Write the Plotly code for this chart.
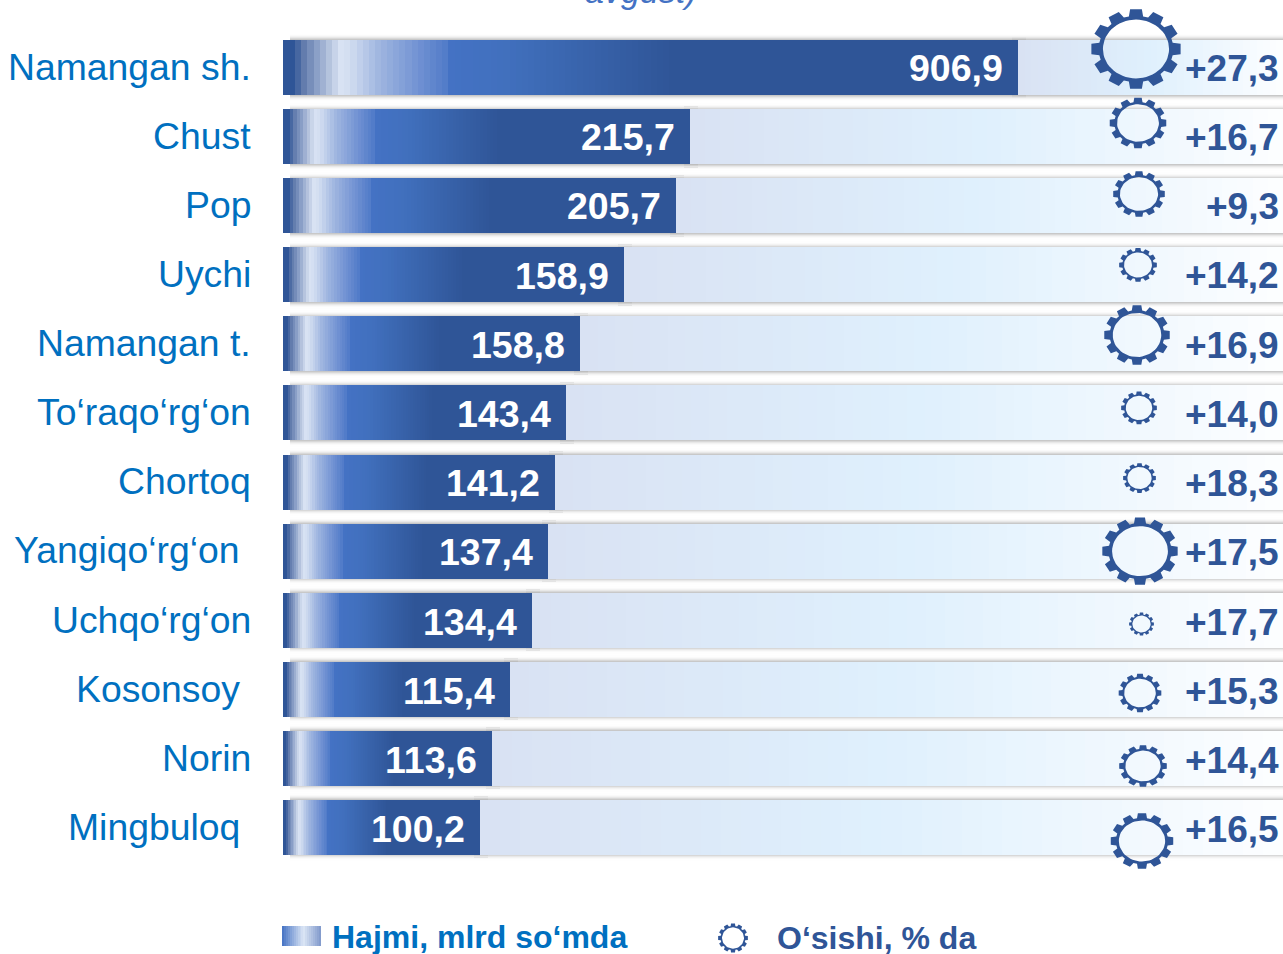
import numpy as np
import plotly.graph_objects as go

# ---------- data ----------
districts = ["Namangan sh.", "Chust", "Pop", "Uychi", "Namangan t.", "To‘raqo‘rg‘on",
             "Chortoq", "Yangiqo‘rg‘on", "Uchqo‘rg‘on", "Kosonsoy", "Norin", "Mingbuloq"]
volume = ["906,9", "215,7", "205,7", "158,9", "158,8", "143,4",
          "141,2", "137,4", "134,4", "115,4", "113,6", "100,2"]
growth = ["+27,3", "+16,7", "+9,3", "+14,2", "+16,9", "+14,0",
          "+18,3", "+17,5", "+17,7", "+15,3", "+14,4", "+16,5"]
# lengths of the bars as drawn (the infographic is not to scale)
drawn_length = [735, 407, 393, 341, 297, 283, 272, 265, 249, 227, 209, 197]
# gear glyph extents as drawn
gear_width = [90, 57, 52, 38, 66, 36, 33, 76, 25, 43, 48, 63]
gear_height = [80, 51, 46, 34, 60, 33, 30, 68, 23, 39, 42, 56]
gear_x = [853, 855, 856, 855, 854, 856, 856.5, 857, 858.5, 857, 860, 859]
gear_y_offset = [-18.5, -13.6, -11.7, -9.8, -8.9, -5, -4, 0, 3.8, 3.7, 7.6, 13.5]
label_right = [-30, -30, -30, -30, -30, -30, -30, -41, -30, -41, -30, -41]

PITCH = 69.09
TOP = 67.5
H = 954
BLUE_TXT = "#0070C0"
DARK = "#2F5597"


def row_of(px):
    return (px - TOP) / PITCH


def mix(stops, t):
    pos = [s[0] for s in stops]
    chans = [[int(s[1][k:k + 2], 16) for s in stops] for k in (1, 3, 5)]
    return "rgb(%d,%d,%d)" % tuple(round(float(np.interp(t, pos, c))) for c in chans)


BAR_STOPS = [(0, "#2F5597"), (.014, "#2F5597"), (.027, "#5F79AB"), (.046, "#8A9FC7"),
             (.064, "#B8C6DF"), (.078, "#D8E2F3"), (.09, "#D3DEF1"), (.13, "#A0B6E0"),
             (.16, "#86A2D9"), (.19, "#6C8ED1"), (.2249, "#4F7AC8"), (.225, "#4472C4"), (.30, "#4170BE"),
             (.53, "#2F5597"), (1, "#2F5597")]
TRACK_STOPS = [(0, "#D9E2F3"), (.5, "#DFF0FD"), (1, "#FDFEFF")]
SWATCH_STOPS = [(0, "#4472C4"), (.55, "#DCE6F5"), (1, "#7F97CB")]


def bands(start, length, stops, n):
    edges = np.round(np.linspace(start, start + length, n + 1))
    base, width, color = [], [], []
    for a, b in zip(edges[:-1], edges[1:]):
        if b > a:
            base.append(float(a))
            width.append(float(b - a))
            color.append(mix(stops, ((a + b) / 2 - start) / length))
    return base, width, color


fig = go.Figure()

# soft shadows above and below every track, a little darker round each bar end
sh_base, sh_w, sh_y, sh_h, sh_c = [], [], [], [], []
for i in range(12):
    top = TOP + i * PITCH - 27.5
    bot = top + 55
    for d, g in zip(range(6), (200, 216, 232, 243, 250, 254)):
        sh_base += [7, 7]
        sh_w += [993, 993]
        sh_y += [row_of(top - d - .5), row_of(bot + d + .5)]
        sh_h += [1 / PITCH, 1 / PITCH]
        sh_c += [f"rgb({g},{g},{g})"] * 2
    for d, g in zip(range(3), (190, 208, 228)):
        sh_base += [drawn_length[i] - 6, drawn_length[i] - 6]
        sh_w += [14, 14]
        sh_y += [row_of(top - d - .5), row_of(bot + d + .5)]
        sh_h += [1 / PITCH, 1 / PITCH]
        sh_c += [f"rgb({g},{g},{g})"] * 2
fig.add_bar(orientation="h", base=sh_base, x=sh_w, y=sh_y, width=sh_h, name="shadow",
            marker=dict(color=sh_c, line_width=0), showlegend=False, hoverinfo="skip")

# pale tracks, then the gradient value bars
b_t, w_t, y_t, c_t, b_v, w_v, y_v, c_v = [], [], [], [], [], [], [], []
for i, L in enumerate(drawn_length):
    b, w, c = bands(L, 1000 - L, TRACK_STOPS, 40)
    b_t += b; w_t += w; c_t += c; y_t += [i] * len(b)
    b, w, c = bands(0, L, BAR_STOPS, 120)
    b_v += b; w_v += w; c_v += c; y_v += [i] * len(b)
fig.add_bar(orientation="h", base=b_t, x=w_t, y=y_t, width=55 / PITCH, name="track",
            marker=dict(color=c_t, line_width=0), showlegend=False, hoverinfo="skip")
fig.add_bar(orientation="h", base=b_v, x=w_v, y=y_v, width=55 / PITCH, name="Hajmi, mlrd so‘mda",
            marker=dict(color=c_v, line_width=0), showlegend=False, hoverinfo="skip")

# legend swatch
b, w, c = bands(-1, 39, SWATCH_STOPS, 20)
fig.add_bar(orientation="h", base=b, x=w, y=[row_of(936)] * len(b), width=20 / PITCH,
            marker=dict(color=c, line_width=0), showlegend=False, hoverinfo="skip")


def gear_xy(cx, cy_px, gw, gh):
    """Closed outline of a 12-toothed ring, with the hole wound the other way."""
    rx, ry = gw / 2, gh / 2
    xs, ys = [], []
    for k in range(12):
        a0 = k * 30
        for ang, r in ((a0 - 11, .83), (a0 - 7.5, 1), (a0 + 7.5, 1), (a0 + 11, .83)):
            t = np.radians(ang)
            xs.append(cx + rx * r * np.cos(t))
            ys.append(row_of(cy_px + ry * r * np.sin(t)))
    xs.append(xs[0]); ys.append(ys[0])
    xs.append(None); ys.append(None)
    for ang in np.arange(360, -1, -6):
        t = np.radians(ang)
        xs.append(cx + rx * .735 * np.cos(t))
        ys.append(row_of(cy_px + ry * .735 * np.sin(t)))
    return xs, ys


def add_gear(cx, cy_px, gw, gh):
    xs, ys = gear_xy(cx, cy_px, gw, gh)
    fig.add_scatter(x=xs, y=ys, mode="lines", fill="toself", fillcolor=DARK,
                    line=dict(width=0, color=DARK), showlegend=False, hoverinfo="skip")


for i in range(12):
    add_gear(gear_x[i], TOP + i * PITCH + gear_y_offset[i], gear_width[i], gear_height[i])
add_gear(450, 938, 30, 29)

ann = []
for i in range(12):
    ann.append(dict(x=label_right[i], y=i - 0.7 / PITCH, xref="x", yref="y", text=districts[i],
                    xanchor="right", yanchor="middle", showarrow=False,
                    font=dict(family="Liberation Sans", size=37.35, color=BLUE_TXT)))
    ann.append(dict(x=drawn_length[i] - 13, y=i + (.5 + i * .1) / PITCH, xref="x", yref="y",
                    text=f"<b>{volume[i]}</b>",
                    xanchor="right", yanchor="middle", showarrow=False,
                    font=dict(family="Liberation Sans", size=37.5, color="white")))
    ann.append(dict(x=998, y=i + (.5 + i * .18) / PITCH, xref="x", yref="y", text=f"<b>{growth[i]}</b>",
                    xanchor="right", yanchor="middle", showarrow=False,
                    font=dict(family="Liberation Sans", size=37, color=DARK)))
ann.append(dict(x=47, y=row_of(937), xref="x", yref="y", text="<b>Hajmi, mlrd so‘mda</b>",
                xanchor="left", yanchor="middle", showarrow=False,
                font=dict(family="Liberation Sans", size=32, color=BLUE_TXT)))
ann.append(dict(x=492, y=row_of(938), xref="x", yref="y", text="<b>O‘sishi, % da</b>",
                xanchor="left", yanchor="middle", showarrow=False,
                font=dict(family="Liberation Sans", size=32, color=DARK)))
ann.append(dict(x=(641) / 1283, y=1, xref="paper", yref="paper", text="<i>avgust)</i>", yshift=9,
                xanchor="center", yanchor="middle", showarrow=False,
                font=dict(family="Liberation Sans", size=34, color="#4472C4")))

fig.update_layout(
    width=1283, height=H, margin=dict(l=0, r=0, t=0, b=0),
    paper_bgcolor="white", plot_bgcolor="white", barmode="overlay", bargap=0,
    showlegend=False, annotations=ann,
    xaxis=dict(range=[-283, 1000], visible=False, fixedrange=True),
    yaxis=dict(range=[row_of(H), row_of(0)], visible=False, fixedrange=True),
)
fig.write_html("out.html", config=dict(displayModeBar=False),
               post_script="document.body.style.margin='0';document.body.style.overflow='hidden';")
